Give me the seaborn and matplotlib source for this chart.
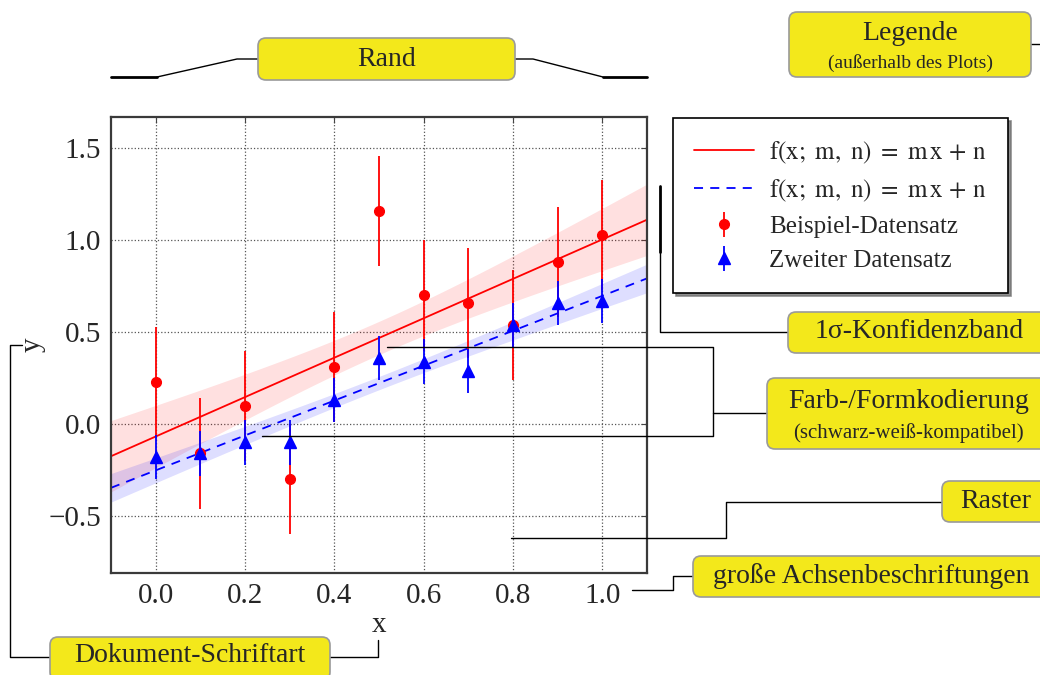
import numpy as np
import matplotlib.pyplot as plt
import seaborn as sns
from matplotlib.lines import Line2D
from matplotlib.patches import FancyBboxPatch
from matplotlib.transforms import Affine2D

x_vals = [0.0, 0.1, 0.2, 0.3, 0.4, 0.5, 0.6, 0.7, 0.8, 0.9, 1.0]
red_y = [0.23, -0.16, 0.10, -0.30, 0.31, 1.16, 0.70, 0.66, 0.54, 0.88, 1.03]
red_err = [0.3, 0.3, 0.3, 0.3, 0.3, 0.3, 0.3, 0.3, 0.3, 0.3, 0.3]
blue_y = [-0.18, -0.16, -0.10, -0.10, 0.13, 0.36, 0.34, 0.29, 0.54, 0.66, 0.67]
blue_err = [0.12, 0.12, 0.12, 0.12, 0.12, 0.12, 0.12, 0.12, 0.12, 0.12, 0.12]
x_ticks = [0.0, 0.2, 0.4, 0.6, 0.8, 1.0]
y_ticks = [-0.5, 0.0, 0.5, 1.0, 1.5]
x_range = [-0.1, 1.1]
y_range = [-0.81, 1.67]
fit_label = r'$\mathrm{f(x;\ m,\ n)\ =\ m\,x\,+\,n}$'
labels = [fit_label, fit_label, 'Beispiel-Datensatz', 'Zweiter Datensatz']

W, H = 1040, 675
YELLOW = '#f3e81b'

sns.set_style('white')
plt.rcParams['font.family'] = ['Liberation Serif', 'DejaVu Serif']
plt.rcParams['mathtext.fontset'] = 'stix'


def weighted_fit(x, y, err, xs):
    # gewichtete lineare Regression mit 1-sigma-Band
    p, cov = np.polyfit(x, y, 1, w=1 / np.asarray(err), cov='unscaled')
    yfit = np.polyval(p, xs)
    sig = np.sqrt(xs**2 * cov[0, 0] + 2 * xs * cov[0, 1] + cov[1, 1])
    return yfit, sig


fig = plt.figure(figsize=(W / 100, H / 100), dpi=100)
ax = fig.add_axes([111 / W, 1 - 573 / H, 536 / W, 456 / H])
px = Affine2D().scale(1 / W, -1 / H).translate(0, 1) + fig.transFigure

xs = np.linspace(x_range[0], x_range[1], 200)
red_fit, red_sig = weighted_fit(x_vals, red_y, red_err, xs)
blue_fit, blue_sig = weighted_fit(x_vals, blue_y, blue_err, xs)

ax.fill_between(xs, red_fit - red_sig, red_fit + red_sig, color='red', alpha=0.12, lw=0, zorder=1)
ax.fill_between(xs, blue_fit - blue_sig, blue_fit + blue_sig, color='blue', alpha=0.13, lw=0, zorder=1)
sns.lineplot(x=xs, y=red_fit, ax=ax, color='red', lw=1.3, zorder=2)
sns.lineplot(x=xs, y=blue_fit, ax=ax, color='blue', lw=1.3, zorder=2)
ax.lines[-1].set_linestyle((0, (5, 4)))

h_red = ax.errorbar(x_vals, red_y, yerr=red_err, fmt='o', color='red', ms=7,
                    elinewidth=1.3, capsize=0, zorder=3)
h_blue = ax.errorbar(x_vals, blue_y, yerr=blue_err, fmt='^', color='blue', ms=8,
                     elinewidth=1.3, capsize=0, zorder=4)

ax.set_xlim(x_range)
ax.set_ylim(y_range)
ax.set_xticks(x_ticks)
ax.set_yticks(y_ticks)
ax.set_xticklabels([f'{v:.1f}' for v in x_ticks])
ax.set_yticklabels([f'{v:.1f}'.replace('-', '\u2212') for v in y_ticks])
ax.tick_params(labelsize=21, direction='in', length=4, top=True, right=True,
               color='#444444', pad=7)
ax.grid(True, linestyle=':', color='#555555', lw=0.9)
for s in ax.spines.values():
    s.set_color('#3a3a3a')
    s.set_linewidth(1.6)
ax.set_xlabel('x', fontsize=21, labelpad=2)
ax.set_ylabel('y', fontsize=21, labelpad=2)

legend_handles = [Line2D([], [], color='red', lw=1.3),
                  Line2D([], [], color='blue', lw=1.3, linestyle=(0, (5, 4))),
                  h_red, h_blue]
leg = fig.legend(legend_handles, labels, loc='upper left',
                 bbox_to_anchor=(673 / W, 1 - 118 / H), borderaxespad=0, fontsize=18,
                 frameon=True, fancybox=False, framealpha=1, edgecolor='black',
                 borderpad=0.85, labelspacing=0.47, handlelength=2.4, handletextpad=0.6,
                 shadow={'color': '0.45', 'alpha': 0.8})
leg.get_frame().set_linewidth(1.2)


def callout(x0, y0, x1, y1, lines, sizes, offsets):
    fig.add_artist(FancyBboxPatch((x0, y0), x1 - x0, y1 - y0,
                                  boxstyle='round,pad=0,rounding_size=8',
                                  transform=px, facecolor=YELLOW, edgecolor='#9a9a9a',
                                  lw=1.2, zorder=5))
    cx = (x0 + x1) / 2
    for t, fs, dy in zip(lines, sizes, offsets):
        fig.text(cx, dy, t, transform=px, fontsize=fs, ha='center', va='center', zorder=6)


def wire(xp, yp, lw=1.0):
    fig.add_artist(Line2D(xp, yp, transform=px, color='black', lw=lw, zorder=4))


# Rand
callout(258, 38, 515, 80, ['Rand'], [20], [59])
wire([111, 157], [77, 77], lw=2)
wire([157, 237, 258], [77, 59, 59])
wire([515, 533, 603], [59, 59, 77])
wire([603, 647], [77, 77], lw=2)

# Legende
callout(789, 12, 1031, 77, ['Legende', '(außerhalb des Plots)'], [20, 14], [34, 63])
wire([1031, 1040], [44, 44])

# Konfidenzband
callout(788, 312, 1050, 353, ['1σ-Konfidenzband'], [20], [331])
wire([660, 660], [186, 252], lw=2)
wire([660, 660, 788], [252, 332, 332])

# Farb-/Formkodierung
callout(767, 378, 1050, 449, ['Farb-/Formkodierung', '(schwarz-weiß-kompatibel)'], [20, 15], [402, 433])
wire([387, 713, 713, 262], [347, 347, 436, 436])
wire([713, 767], [413, 413])

# Raster
callout(942, 481, 1050, 522, ['Raster'], [20], [501])
wire([942, 726, 726, 511], [502, 502, 538, 538])

# Achsenbeschriftungen
callout(693, 556, 1050, 597, ['große Achsenbeschriftungen'], [20], [576])
wire([693, 673, 673, 632], [576, 576, 590, 590])

# Schriftart
callout(50, 637, 330, 680, ['Dokument-Schriftart'], [20], [656])
wire([22, 10, 10, 50], [345, 345, 657, 657])
wire([330, 378, 378], [657, 657, 640])

fig.savefig('out.png', dpi=100)
